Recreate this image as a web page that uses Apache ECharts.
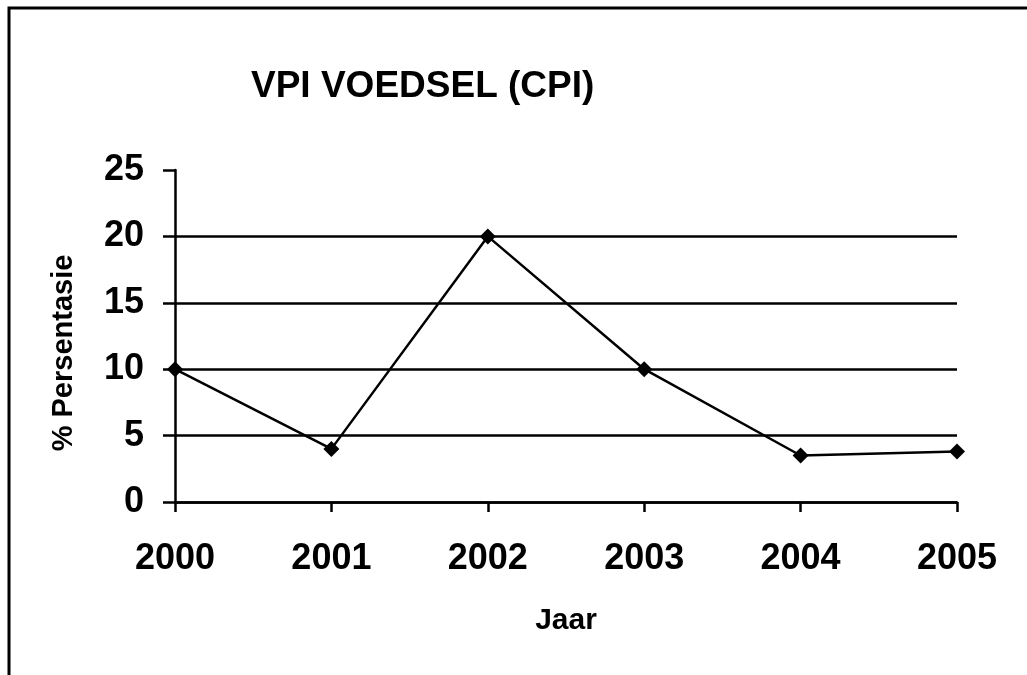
<!DOCTYPE html>
<html>
<head>
<meta charset="utf-8">
<script src="https://cdn.jsdelivr.net/npm/echarts@6/dist/echarts.min.js"></script>
<style>
html,body{margin:0;padding:0;background:#fff;}
#chart{width:1027px;height:675px;}
</style>
</head>
<body>
<div id="chart"></div>
<script>
var jaren=['2000','2001','2002','2003','2004','2005'];
var vpi=[10,4,20,10,3.5,3.8];//% persentasie
var yTicks=[0,5,10,15,20,25];

var chart=echarts.init(document.getElementById('chart'));
var lettertipe='"Liberation Sans", Arial, sans-serif';
var option={
	backgroundColor:'#fff',
	animation:false,
	title:{
		text:'VPI VOEDSEL (CPI)',
		left:246,
		top:63,
		textStyle:{fontFamily:lettertipe,fontSize:37,fontWeight:'bold',color:'#000'}
	},
	grid:{left:175,right:70,top:170,bottom:173},
	xAxis:{
		type:'category',
		data:jaren,
		boundaryGap:false,
		name:'Jaar',
		nameLocation:'middle',
		nameGap:104,
		nameTextStyle:{fontFamily:lettertipe,fontSize:30,fontWeight:'bold',color:'#000'},
		axisLine:{lineStyle:{color:'#000',width:2.5}},
		axisTick:{show:true,length:10,lineStyle:{color:'#000',width:2.5}},
		axisLabel:{margin:39,fontFamily:lettertipe,fontSize:36,fontWeight:'bold',color:'#000'}
	},
	yAxis:{
		type:'value',
		min:yTicks[0],
		max:yTicks[yTicks.length-1],
		interval:yTicks[1]-yTicks[0],
		name:'% Persentasie',
		nameLocation:'middle',
		nameGap:97,
		nameTextStyle:{fontFamily:lettertipe,fontSize:29,fontWeight:'bold',color:'#000',padding:[0,34,0,0]},
		axisLine:{show:true,lineStyle:{color:'#000',width:2.5}},
		axisTick:{show:true,length:12,lineStyle:{color:'#000',width:2.5}},
		axisLabel:{margin:31,fontFamily:lettertipe,fontSize:36,fontWeight:'bold',color:'#000'},
		splitLine:{show:true,lineStyle:{color:['#000','#000','#000','#000','#000','rgba(0,0,0,0)'],width:2.5}}
	},
	graphic:[{
		type:'polyline',
		shape:{points:[[9,675],[9,8],[1027,8]]},
		style:{stroke:'#000',lineWidth:3,fill:null}
	}],
	series:[{
		name:'VPI',
		type:'line',
		data:vpi,
		symbol:'diamond',
		symbolSize:16,
		itemStyle:{color:'#000'},
		lineStyle:{color:'#000',width:2.5}
	}]
};
chart.setOption(option);
window.addEventListener('resize',function(){
	chart.resize();
});
</script>
</body>
</html>
